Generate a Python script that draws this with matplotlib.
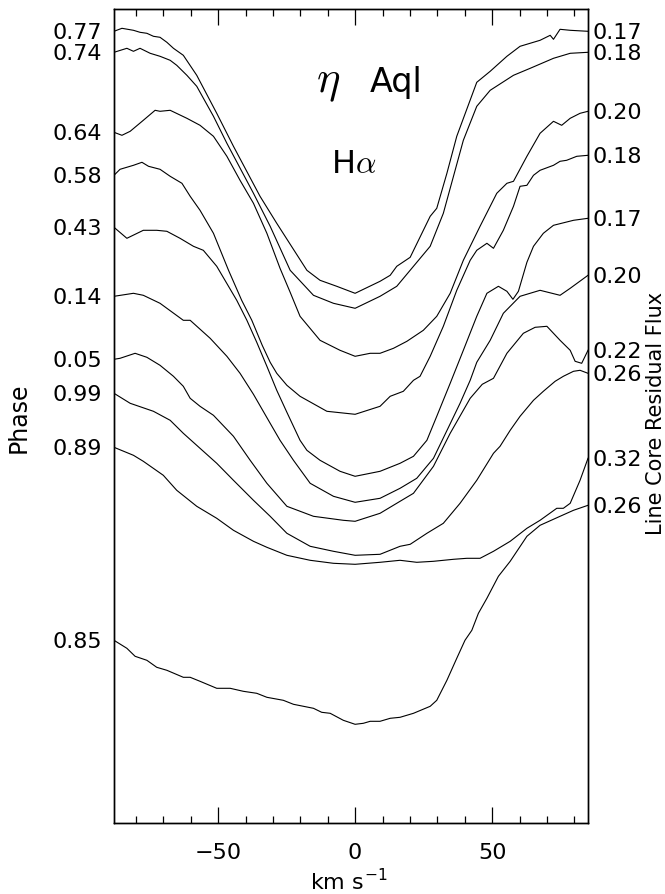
import numpy as np
import matplotlib
matplotlib.use("Agg")
import matplotlib.pyplot as plt
from matplotlib.ticker import FixedLocator

plt.rcParams["font.family"] = ["DejaVu Sans"]
plt.rcParams["mathtext.fontset"] = "cm"

# H-alpha profiles of eta Aql, (velocity km/s, offset relative flux) per phase
prof_077 = [(-88.0, 7.92), (-85.1, 7.95), (-80.9, 7.93), (-78.5, 7.91), (-76.0, 7.90), (-73.6, 7.87),
            (-71.2, 7.86), (-68.7, 7.81), (-66.3, 7.75), (-62.7, 7.68), (-57.8, 7.48), (-50.5, 7.10),
            (-44.4, 6.77), (-34.7, 6.27), (-28.6, 6.00), (-17.6, 5.53), (-12.8, 5.43), (-6.7, 5.37),
            (0.0, 5.30), (9.1, 5.42), (12.8, 5.48), (15.2, 5.57), (20.1, 5.66), (27.4, 6.07),
            (29.8, 6.15), (33.5, 6.50), (37.1, 6.87), (44.4, 7.41), (49.3, 7.52), (55.4, 7.67),
            (60.2, 7.77), (67.5, 7.83), (71.2, 7.88), (72.4, 7.84), (74.8, 7.94), (78.5, 7.93),
            (85.0, 7.92)]
prof_074 = [(-88.0, 7.71), (-83.3, 7.75), (-80.9, 7.72), (-78.5, 7.75), (-74.8, 7.70), (-71.2, 7.67),
            (-67.5, 7.63), (-65.1, 7.58), (-61.4, 7.48), (-57.8, 7.37), (-51.7, 7.07), (-46.8, 6.80),
            (-37.1, 6.30), (-31.0, 5.97), (-23.7, 5.53), (-15.2, 5.28), (-7.9, 5.20), (0.0, 5.15),
            (9.1, 5.27), (15.2, 5.37), (21.3, 5.57), (27.4, 5.77), (32.2, 6.10), (39.5, 6.83),
            (44.4, 7.17), (49.3, 7.33), (57.8, 7.48), (63.9, 7.55), (72.4, 7.65), (78.5, 7.70),
            (85.0, 7.71)]
prof_064 = [(-88.0, 6.91), (-85.1, 6.88), (-82.1, 6.92), (-77.3, 7.03), (-73.0, 7.13), (-71.2, 7.12),
            (-67.5, 7.13), (-61.4, 7.05), (-56.6, 6.98), (-51.7, 6.87), (-46.8, 6.67), (-42.0, 6.43),
            (-37.1, 6.20), (-32.2, 5.90), (-27.4, 5.55), (-23.7, 5.31), (-20.1, 5.07), (-12.8, 4.83),
            (-5.5, 4.73), (0.0, 4.67), (5.5, 4.70), (9.1, 4.70), (14.0, 4.75), (18.9, 4.82),
            (24.9, 4.93), (29.8, 5.07), (34.7, 5.30), (39.5, 5.63), (45.6, 5.97), (49.3, 6.17),
            (51.7, 6.30), (55.4, 6.40), (57.8, 6.42), (62.7, 6.67), (67.5, 6.90), (72.4, 7.02),
            (75.4, 6.98), (78.5, 7.05), (82.1, 7.10), (85.0, 7.12)]
prof_058 = [(-88.0, 6.48), (-85.8, 6.54), (-80.9, 6.58), (-77.8, 6.61), (-75.4, 6.57), (-71.2, 6.54),
            (-67.5, 6.47), (-63.2, 6.40), (-60.2, 6.27), (-56.6, 6.13), (-51.7, 5.90), (-46.2, 5.53),
            (-41.4, 5.23), (-37.7, 5.03), (-33.9, 4.78), (-31.0, 4.61), (-28.6, 4.50), (-24.9, 4.38),
            (-20.1, 4.27), (-10.3, 4.12), (0.0, 4.09), (9.1, 4.17), (12.8, 4.27), (17.6, 4.32),
            (21.3, 4.43), (23.7, 4.47), (27.4, 4.67), (32.2, 4.97), (37.1, 5.33), (42.0, 5.63),
            (44.4, 5.73), (48.1, 5.80), (50.5, 5.75), (54.1, 5.93), (57.8, 6.17), (60.2, 6.37),
            (62.7, 6.38), (65.1, 6.48), (67.5, 6.53), (72.4, 6.58), (74.8, 6.62), (77.2, 6.63),
            (80.9, 6.67), (85.0, 6.68)]
prof_043 = [(-88.0, 5.96), (-83.3, 5.85), (-77.3, 5.93), (-72.4, 5.93), (-68.7, 5.92), (-63.9, 5.85),
            (-59.0, 5.77), (-55.4, 5.73), (-50.5, 5.57), (-43.2, 5.23), (-39.5, 5.03), (-35.9, 4.81),
            (-32.2, 4.57), (-28.6, 4.33), (-24.9, 4.11), (-20.1, 3.83), (-17.6, 3.73), (-12.8, 3.63),
            (-5.5, 3.52), (0.0, 3.47), (9.1, 3.52), (16.4, 3.60), (21.3, 3.67), (26.2, 3.83),
            (29.8, 4.07), (34.7, 4.40), (39.5, 4.73), (44.4, 5.07), (48.1, 5.30), (52.3, 5.37),
            (55.4, 5.32), (57.6, 5.24), (59.6, 5.32), (62.7, 5.61), (65.1, 5.77), (68.7, 5.90),
            (72.4, 5.98), (79.7, 6.03), (85.0, 6.05)]
prof_014 = [(-88.0, 5.27), (-80.9, 5.30), (-77.3, 5.28), (-71.2, 5.20), (-62.7, 5.03), (-60.2, 5.03),
            (-52.9, 4.85), (-46.8, 4.67), (-42.0, 4.50), (-37.1, 4.29), (-31.0, 4.00), (-27.4, 3.83),
            (-22.5, 3.63), (-16.4, 3.40), (-7.9, 3.27), (0.0, 3.21), (9.1, 3.25), (16.4, 3.35),
            (22.5, 3.45), (28.6, 3.65), (33.9, 3.95), (38.3, 4.20), (42.0, 4.43), (44.4, 4.61),
            (49.3, 4.83), (54.1, 5.10), (60.2, 5.27), (67.5, 5.33), (74.8, 5.28), (78.5, 5.35),
            (85.0, 5.48)]
prof_005 = [(-88.0, 4.64), (-85.8, 4.65), (-80.3, 4.70), (-76.0, 4.66), (-71.2, 4.58), (-66.3, 4.47),
            (-62.7, 4.37), (-60.2, 4.25), (-56.6, 4.17), (-51.7, 4.08), (-44.4, 3.87), (-38.3, 3.63),
            (-32.2, 3.40), (-24.9, 3.17), (-15.2, 3.07), (-4.3, 3.03), (0.0, 3.02), (9.1, 3.10),
            (16.4, 3.22), (21.3, 3.30), (28.6, 3.57), (34.7, 3.90), (42.0, 4.25), (46.4, 4.39),
            (50.5, 4.45), (55.4, 4.70), (61.4, 4.90), (65.7, 4.96), (70.0, 4.97), (74.8, 4.83),
            (78.5, 4.73), (80.3, 4.62), (82.7, 4.60), (85.0, 4.73)]
prof_099 = [(-88.0, 4.30), (-82.1, 4.20), (-73.6, 4.12), (-67.5, 4.03), (-62.7, 3.90), (-56.6, 3.75),
            (-50.5, 3.60), (-44.4, 3.43), (-37.1, 3.23), (-31.0, 3.07), (-24.9, 2.90), (-16.4, 2.77),
            (-7.9, 2.72), (0.0, 2.68), (9.1, 2.69), (16.4, 2.77), (20.1, 2.79), (26.2, 2.90),
            (32.2, 3.00), (38.3, 3.20), (44.4, 3.43), (50.5, 3.70), (52.9, 3.77), (56.6, 3.93),
            (60.2, 4.07), (65.1, 4.23), (68.7, 4.32), (73.0, 4.42), (76.0, 4.47), (79.7, 4.52),
            (82.1, 4.53), (85.0, 4.50)]
prof_089 = [(-88.0, 3.76), (-80.9, 3.68), (-77.3, 3.62), (-70.0, 3.48), (-65.1, 3.33), (-57.8, 3.17),
            (-50.5, 3.05), (-44.4, 2.93), (-37.1, 2.82), (-32.2, 2.76), (-24.9, 2.68), (-16.4, 2.63),
            (-7.9, 2.60), (0.0, 2.59), (9.1, 2.61), (16.4, 2.63), (22.5, 2.61), (28.6, 2.62),
            (35.9, 2.64), (40.8, 2.65), (45.6, 2.65), (50.5, 2.72), (56.6, 2.82), (62.7, 2.95),
            (67.5, 3.03), (73.6, 3.15), (76.0, 3.15), (78.5, 3.20), (82.1, 3.43), (85.0, 3.65)]
prof_085 = [(-88.0, 1.83), (-83.3, 1.75), (-80.3, 1.67), (-76.0, 1.63), (-72.4, 1.56), (-68.7, 1.53),
            (-62.7, 1.46), (-60.2, 1.46), (-56.6, 1.42), (-50.5, 1.35), (-45.6, 1.35), (-40.8, 1.32),
            (-35.9, 1.30), (-32.2, 1.26), (-26.2, 1.23), (-22.5, 1.19), (-15.2, 1.15), (-12.2, 1.11),
            (-9.1, 1.10), (-4.3, 1.03), (0.0, 0.99), (3.0, 1.00), (5.5, 1.02), (9.1, 1.02),
            (12.8, 1.05), (16.4, 1.06), (21.3, 1.10), (27.4, 1.17), (29.8, 1.23), (33.5, 1.43),
            (37.1, 1.65), (40.1, 1.83), (42.6, 1.93), (45.0, 2.10), (48.1, 2.25), (52.3, 2.47),
            (56.6, 2.62), (62.7, 2.87), (67.5, 2.98), (74.8, 3.07), (79.7, 3.13), (85.0, 3.18)]

profiles = [prof_077, prof_074, prof_064, prof_058, prof_043,
            prof_014, prof_005, prof_099, prof_089, prof_085]
phase_labels = ["0.77", "0.74", "0.64", "0.58", "0.43", "0.14", "0.05", "0.99", "0.89", "0.85"]
core_flux_labels = ["0.17", "0.18", "0.20", "0.18", "0.17", "0.20", "0.22", "0.26", "0.32", "0.26"]

W, H = 665, 894
fig = plt.figure(figsize=(W / 100, H / 100), dpi=100)
ax = fig.add_axes([114 / W, 1 - 823.3 / H, 474 / W, 814 / H])

starts, ends = [], []
for prof in profiles:
    v, f = np.asarray(prof).T
    ax.plot(v, f, color="black", lw=0.8)
    starts.append(f[0])
    ends.append(f[-1])

ax.set_xlim(-88, 85)
ax.set_ylim(0, 8.14)

# x axis: inward ticks on bottom and top
ax.xaxis.set_major_locator(FixedLocator([-50, 0, 50]))
ax.xaxis.set_minor_locator(FixedLocator([v for v in range(-80, 90, 10) if v % 50 != 0]))
ax.tick_params(axis="x", which="both", direction="in", top=True, bottom=True,
               width=0.9, labelsize=16, pad=14.5)
ax.tick_params(axis="x", which="major", length=11.5)
ax.tick_params(axis="x", which="minor", length=5.2)
ax.set_xticklabels(["\u221250", "0", "50"])

# phase labels on the left, line-core residual flux on the right
ax.set_yticks(starts)
ax.set_yticklabels(phase_labels)
ax.tick_params(axis="y", which="both", length=0, labelsize=16, pad=8.5)
ax2 = ax.twinx()
ax2.set_ylim(ax.get_ylim())
ax2.set_yticks(ends)
ax2.set_yticklabels(core_flux_labels)
ax2.tick_params(axis="y", which="both", length=0, labelsize=16, pad=3.5)

for a in (ax, ax2):
    for s in a.spines.values():
        s.set_linewidth(1.0)

ax.text(-10.0, 7.31, r"$\eta$", fontsize=32, ha="center", va="baseline")
ax.text(15.0, 7.31, "Aql", fontsize=24, ha="center", va="baseline")
ax.text(-0.4, 6.50, r"H$\alpha$", fontsize=23, ha="center", va="baseline")

fig.text(19 / W, 1 - 418 / H, "Phase", rotation=90, ha="center", va="center", fontsize=17)
fig.text(656 / W, 1 - 413 / H, "Line Core Residual Flux", rotation=90,
         ha="center", va="center", fontsize=15)
fig.text(349 / W, 1 - 882 / H, r"km s$^{\mathregular{-1}}$", ha="center", va="center", fontsize=16)

fig.savefig("out.png", dpi=100)
